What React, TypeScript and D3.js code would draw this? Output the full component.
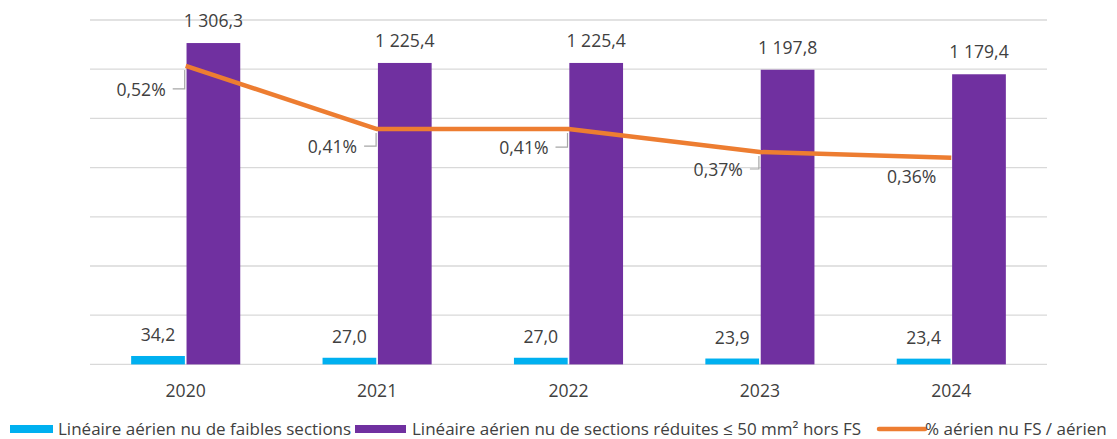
import React from "react";
import * as d3 from "d3";

// chart data
const years = ["2020", "2021", "2022", "2023", "2024"];
const faiblesSections = [34.2, 27.0, 27.0, 23.9, 23.4];
const sectionsReduites = [1306.3, 1225.4, 1225.4, 1197.8, 1179.4];
const pctAerienFS = [0.52, 0.41, 0.41, 0.37, 0.36];
const seriesNames = [
  "Linéaire aérien nu de faibles sections",
  "Linéaire aérien nu de sections réduites ≤ 50 mm² hors FS",
  "% aérien nu FS / aérien",
];
const yTicks = [0, 200, 400, 600, 800, 1000, 1200, 1400];

// layout for the % labels (offset from the point, like the excel leader labels)
const pctLabelDx = [-20, -20, -20, -17, -15];
const pctLabelDy = [30, 24, 25, 24, 25];
const pctLeader = [true, true, true, true, false];

const W = 1117;
const H = 439;
const FONT = "'Open Sans', sans-serif";
const TEXT = "#404040";
const BLUE = "#00B0F0";
const PURPLE = "#7030A0";
const ORANGE = "#ED7D31";
const LABEL_SIZE = 17.6;

const fr = d3.formatLocale({ decimal: ",", thousands: " ", grouping: [3], currency: ["", " €"] });
const fmtVal = fr.format(",.1f");
const fmtPct = fr.format(".2f");

export default function App() {
  const x0 = d3.scaleBand().domain(years).range([90, 1047]).padding(0);
  const groupW = x0.bandwidth() * 0.57;
  const x1 = d3.scaleBand().domain(["a", "b"]).range([-groupW / 2, groupW / 2]).paddingInner(0.03);
  const y = d3.scaleLinear().domain([0, 1400]).range([364.4, 20]);
  const y2 = d3.scaleLinear().domain([0, 0.6]).range([364.4, 20]);
  const cx = (yr: string) => (x0(yr) as number) + x0.bandwidth() / 2;

  const line = d3
    .line<number>()
    .x((_, i) => cx(years[i]))
    .y((d) => y2(d));

  return (
    <svg width={W} height={H} style={{ position: "absolute", left: 0, top: 0, fontFamily: FONT }}>
      <rect width={W} height={H} fill="#fff" />
      {yTicks.map((t) => (
        <line key={t} x1={90} x2={1047} y1={y(t)} y2={y(t)} stroke="#d9d9d9" strokeWidth={1.3} />
      ))}

      {years.map((yr, i) => {
        const c = cx(yr);
        const xa = c + (x1("a") as number);
        const xb = c + (x1("b") as number);
        const bw = x1.bandwidth();
        return (
          <g key={yr}>
            <rect x={xa} y={y(faiblesSections[i])} width={bw} height={y(0) - y(faiblesSections[i])} fill={BLUE} />
            <rect x={xb} y={y(sectionsReduites[i])} width={bw} height={y(0) - y(sectionsReduites[i])} fill={PURPLE} />
            <text x={xa + bw / 2} y={y(faiblesSections[i]) - 15} textAnchor="middle" fontSize={LABEL_SIZE} fill={TEXT}>
              {fmtVal(faiblesSections[i])}
            </text>
            <text x={xb + bw / 2} y={y(sectionsReduites[i]) - 16} textAnchor="middle" fontSize={LABEL_SIZE} fill={TEXT}>
              {fmtVal(sectionsReduites[i])}
            </text>
            <text x={c} y={397} textAnchor="middle" fontSize={LABEL_SIZE} fill={TEXT}>
              {yr}
            </text>
          </g>
        );
      })}

      {/* leader lines under the line */}
      {pctAerienFS.map((v, i) => {
        if (!pctLeader[i]) return null;
        const px = cx(years[i]);
        const py = y2(v);
        const base = py + pctLabelDy[i];
        const right = px + pctLabelDx[i];
        return (
          <path
            key={"ld" + i}
            d={`M${px - 1},${py + 4}V${base - 7}H${right + 7}`}
            fill="none"
            stroke="#a6a6a6"
            strokeWidth={1.2}
          />
        );
      })}

      <path d={line(pctAerienFS) || ""} fill="none" stroke={ORANGE} strokeWidth={4.5} strokeLinejoin="round" />

      {pctAerienFS.map((v, i) => (
        <text
          key={"pl" + i}
          x={cx(years[i]) + pctLabelDx[i]}
          y={y2(v) + pctLabelDy[i]}
          textAnchor="end"
          fontSize={LABEL_SIZE}
          fill={TEXT}
        >
          {fmtPct(v) + "%"}
        </text>
      ))}

      {/* legend */}
      <g fontSize={17} fill={TEXT}>
        <rect x={10} y={425} width={43} height={8} fill={BLUE} />
        <text x={58} y={435}>{seriesNames[0]}</text>
        <rect x={355} y={425} width={51} height={8} fill={PURPLE} />
        <text x={412} y={435}>{seriesNames[1]}</text>
        <line x1={879} x2={925} y1={429} y2={429} stroke={ORANGE} strokeWidth={4.5} strokeLinecap="round" />
        <text x={925} y={435}>{seriesNames[2]}</text>
      </g>
    </svg>
  );
}
